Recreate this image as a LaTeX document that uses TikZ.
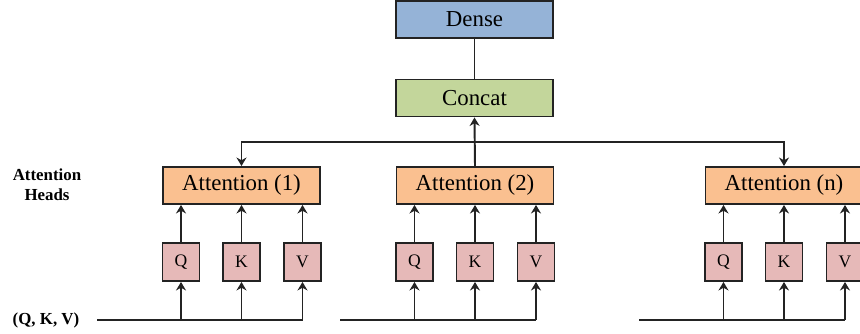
\documentclass[tikz,border=0pt]{standalone}
\usepackage{fontspec}
\setmainfont{Liberation Serif}
\usetikzlibrary{arrows.meta,calc}
\definecolor{mhadenseblue}{RGB}{149,179,215}
\definecolor{mhaconcatgreen}{RGB}{195,214,155}
\definecolor{mhaheadorange}{RGB}{250,192,144}
\definecolor{mhaqkvpink}{RGB}{230,185,184}
\definecolor{mhadark}{RGB}{35,35,35}
\tikzset{
  mha box/.style={
    draw=mhadark,
    line width=1.1pt,
    inner sep=0pt,
    font=\fontsize{13}{15}\selectfont,
  },
  big box/.style={
    mha box,
    minimum width=157*0.02cm,
    minimum height=37*0.02cm,
  },
  qkv box/.style={
    mha box,
    fill=mhaqkvpink,
    minimum width=37*0.02cm,
    minimum height=38*0.02cm,
    font=\fontsize{10}{12}\selectfont,
  },
  mha line/.style={
    line width=1.1pt,
    draw=mhadark,
  },
  mha arrow/.style={
    mha line,
    -{Stealth[length=1.7mm,width=2mm]},
  },
  side label/.style={
    font=\fontsize{9.6}{11.5}\selectfont\bfseries,
    align=center,
  },
}
\begin{document}
\begin{tikzpicture}[x=0.02cm,y=-0.02cm]
  \useasboundingbox (0,0) rectangle (860,334);

  \node[big box, fill=mhadenseblue] (dense) at (474.5,19.5) {Dense};
  \node[big box, fill=mhaconcatgreen] (concat) at (474.5,98) {Concat};

  \node[side label] (heads) at (47,185) {Attention\\Heads};
  \node[side label] (input) at (46,320) {(Q, K, V)};

  % attention heads with their Q, K, V inputs
  \foreach \h/\cx/\sx/\lab in {1/241.5/97/1, 2/475/340/2, 3/784/639/n} {
    \node[big box, fill=mhaheadorange] (att\h) at (\cx,185.5) {Attention (\lab)};
    \node[qkv box] (q\h) at (\cx-60.5,262) {Q};
    \node[qkv box] (k\h) at (\cx,262) {K};
    \node[qkv box] (v\h) at (\cx+61,262) {V};
    \coordinate (in\h) at (\sx,320);
    \draw[mha line] (in\h) -- (v\h.south |- in\h);
    \foreach \m in {q,k,v} {
      \draw[mha arrow] (\m\h.south |- in\h) -- (\m\h.south);
      \draw[mha arrow] (\m\h.north) -- (\m\h.north |- att\h.south);
    }
  }

  \coordinate (split) at (475,142);
  \draw[mha line] (dense.south) -- (concat.north);
  \draw[mha arrow] (att2.north) -- (concat.south);
  \draw[mha arrow] (split) -| (att1.north);
  \draw[mha arrow] (split) -| (att3.north);
\end{tikzpicture}
\end{document}
